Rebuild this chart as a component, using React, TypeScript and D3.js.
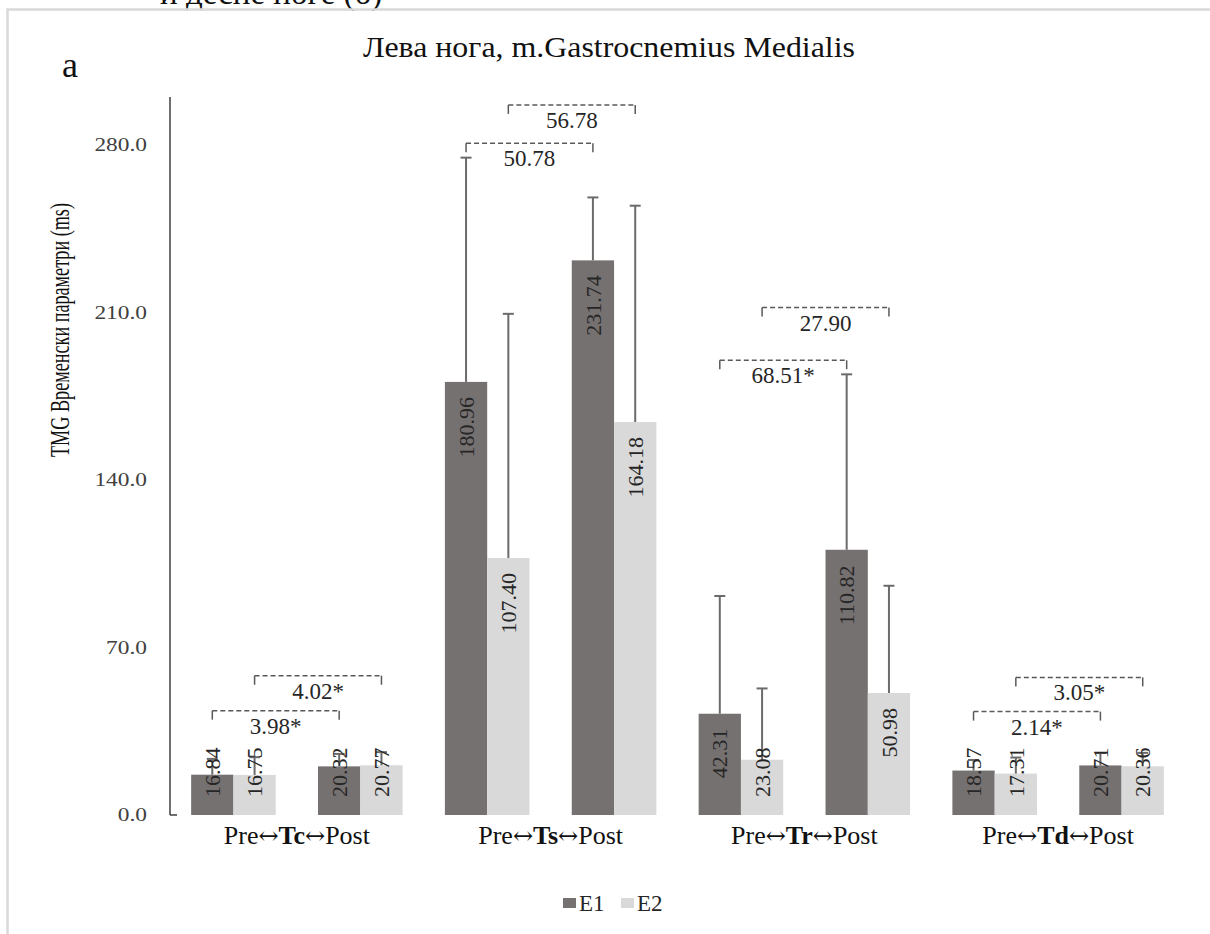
import React from "react";
import * as d3 from "d3";

// Groups on the x axis (each has a Pre and a Post pair of bars)
const categories = ["Tc", "Ts", "Tr", "Td"];
const phases = ["Pre", "Post"];
const seriesNames = ["E1", "E2"];

// Mean values (ms)
const e1Pre = [16.84, 180.96, 42.31, 18.57];
const e1Post = [20.32, 231.74, 110.82, 20.71];
const e2Pre = [16.75, 107.4, 23.08, 17.31];
const e2Post = [20.77, 164.18, 50.98, 20.36];

// Standard deviations (upper error bars)
const e1PreSd = [6.6, 93.7, 49.2, 4.4];
const e1PostSd = [5.2, 26.3, 73.3, 5.2];
const e2PreSd = [7.4, 102.0, 29.8, 6.7];
const e2PostSd = [5.5, 90.4, 44.8, 5.6];

// Pre-vs-Post difference annotations and the level they sit at
const e1Diff = ["3.98*", "50.78", "68.51*", "2.14*"];
const e2Diff = ["4.02*", "56.78", "27.90", "3.05*"];
const e1DiffLevel = [43.6, 280.7, 190, 43.2];
const e2DiffLevel = [58.2, 296.7, 212, 57.5];

// Value axis
const yTicks = [0, 70, 140, 210, 280];
const yMax = 300;

const colors: Record<string, string> = { E1: "#767171", E2: "#d9d9d9" };

const means: Record<string, Record<string, number[]>> = {
  E1: { Pre: e1Pre, Post: e1Post },
  E2: { Pre: e2Pre, Post: e2Post },
};
const sds: Record<string, Record<string, number[]>> = {
  E1: { Pre: e1PreSd, Post: e1PostSd },
  E2: { Pre: e2PreSd, Post: e2PostSd },
};
const diffs: Record<string, { text: string[]; level: number[] }> = {
  E1: { text: e1Diff, level: e1DiffLevel },
  E2: { text: e2Diff, level: e2DiffLevel },
};

const FONT = "Liberation Serif";

export default function App() {
  const W = 1210;
  const H = 934;
  const left = 170;
  const right = 1185;
  const top = 97;
  const bottom = 815;

  const x0 = d3.scaleBand<string>().domain(categories).range([left, right]);
  const x1 = d3
    .scaleBand<string>()
    .domain(phases)
    .range([0, x0.bandwidth()])
    .paddingInner(1 / 3)
    .paddingOuter(1 / 6);
  const x2 = d3.scaleBand<string>().domain(seriesNames).range([0, x1.bandwidth()]);
  const y = d3.scaleLinear().domain([0, yMax]).range([bottom, top]);
  const fmtTick = d3.format(".1f");

  const bars = categories.flatMap((cat, i) =>
    phases.flatMap((ph) =>
      seriesNames.map((s) => ({
        cat,
        ph,
        s,
        v: means[s][ph][i],
        sd: sds[s][ph][i],
        x: (x0(cat) ?? 0) + (x1(ph) ?? 0) + (x2(s) ?? 0),
      }))
    )
  );

  const labelSize = 22;
  const labelLen = (t: string) =>
    t.split("").reduce((acc, c) => acc + (c === "." ? 0.25 : 0.5), 0) * labelSize;

  const bw = x2.bandwidth();
  const capW = 11;
  const arrowStyle = { fontFamily: "DejaVu Serif", fontSize: 24 };

  return (
    <svg
      width={W}
      height={H}
      style={{ position: "absolute", left: 0, top: 0, background: "#fff", fontFamily: FONT }}
    >
      <rect x={0} y={0} width={W} height={H} fill="#fff" />
      {/* caption line running above the frame */}
      <text x={160} y={4} fontSize={33} fill="#111">
        и десне ноге (б)
      </text>
      <rect x={7.5} y={9.5} width={1300} height={1000} fill="none" stroke="#d9d9d9" strokeWidth={2.5} />

      <text x={62} y={77} fontSize={36} fill="#111">
        a
      </text>
      <text x={609} y={57} fontSize={30} textAnchor="middle" fill="#111" textLength={492} lengthAdjust="spacingAndGlyphs">
        Лева нога, m.Gastrocnemius Medialis
      </text>

      {/* y axis */}
      <line x1={left} x2={left} y1={top} y2={bottom} stroke="#404040" strokeWidth={1.5} />
      <line x1={left} x2={left + 7} y1={bottom} y2={bottom} stroke="#404040" strokeWidth={1.5} />
      {yTicks.map((t) => (
        <text
          key={t}
          transform={`translate(147,${y(t)}) scale(1.3,1)`}
          fontSize={18}
          textAnchor="end"
          dy="0.35em"
          fill="#404040"
        >
          {fmtTick(t)}
        </text>
      ))}
      <text
        transform={`translate(69,330) rotate(-90)`}
        fontSize={27}
        textAnchor="middle"
        fill="#111"
        textLength={254}
        lengthAdjust="spacingAndGlyphs"
      >
        TMG Временски параметри (ms)
      </text>

      {/* bars */}
      {bars.map((b) => (
        <rect
          key={`bar-${b.cat}-${b.ph}-${b.s}`}
          x={b.x}
          y={y(b.v)}
          width={bw}
          height={bottom - y(b.v)}
          fill={colors[b.s]}
        />
      ))}

      {/* error bars */}
      {bars.map((b) => {
        const cx = b.x + bw / 2;
        const yt = y(b.v + b.sd);
        return (
          <g key={`err-${b.cat}-${b.ph}-${b.s}`} stroke="#6b6b6b" strokeWidth={2}>
            <line x1={cx} x2={cx} y1={y(b.v)} y2={yt} />
            <line x1={cx - capW / 2} x2={cx + capW / 2} y1={yt} y2={yt} />
          </g>
        );
      })}

      {/* value labels, rotated, inside the bar end */}
      {bars.map((b) => {
        const t = b.v.toFixed(2);
        const len = labelLen(t);
        const cx = b.x + bw / 2;
        const startY = Math.min(y(b.v) + 15 + len, bottom - 18);
        return (
          <text
            key={`lbl-${b.cat}-${b.ph}-${b.s}`}
            transform={`translate(${cx},${startY}) rotate(-90)`}
            fontSize={labelSize}
            dy="0.35em"
            textAnchor="start"
            fill="#262626"
          >
            {t}
          </text>
        );
      })}

      {/* Pre-Post comparison brackets */}
      {categories.flatMap((cat, i) =>
        seriesNames.map((s) => {
          const xa = (x0(cat) ?? 0) + (x1("Pre") ?? 0) + (x2(s) ?? 0) + bw / 2;
          const xb = (x0(cat) ?? 0) + (x1("Post") ?? 0) + (x2(s) ?? 0) + bw / 2;
          const yl = y(diffs[s].level[i]);
          return (
            <g key={`br-${cat}-${s}`}>
              <line x1={xa} x2={xb} y1={yl} y2={yl} stroke="#595959" strokeWidth={1.5} strokeDasharray="5 3" />
              <line x1={xa} x2={xa} y1={yl} y2={yl + 9} stroke="#595959" strokeWidth={1.5} />
              <line x1={xb} x2={xb} y1={yl} y2={yl + 9} stroke="#595959" strokeWidth={1.5} />
              <text x={(xa + xb) / 2} y={yl + 23} fontSize={23} textAnchor="middle" fill="#262626">
                {diffs[s].text[i]}
              </text>
            </g>
          );
        })
      )}

      {/* category labels */}
      {categories.map((cat) => (
        <text
          key={`cat-${cat}`}
          x={(x0(cat) ?? 0) + x0.bandwidth() / 2}
          y={844}
          fontSize={26}
          textAnchor="middle"
          fill="#111"
        >
          <tspan>Pre</tspan>
          <tspan style={arrowStyle}>↔</tspan>
          <tspan fontWeight="bold">{cat}</tspan>
          <tspan style={arrowStyle}>↔</tspan>
          <tspan>Post</tspan>
        </text>
      ))}

      {/* legend */}
      {seriesNames.map((s, k) => (
        <g key={`lg-${s}`} transform={`translate(${563 + k * 58},898)`}>
          <rect x={0} y={0} width={13} height={10} fill={colors[s]} />
          <text x={16} y={12.5} fontSize={23} fill="#262626">
            {s}
          </text>
        </g>
      ))}
    </svg>
  );
}
